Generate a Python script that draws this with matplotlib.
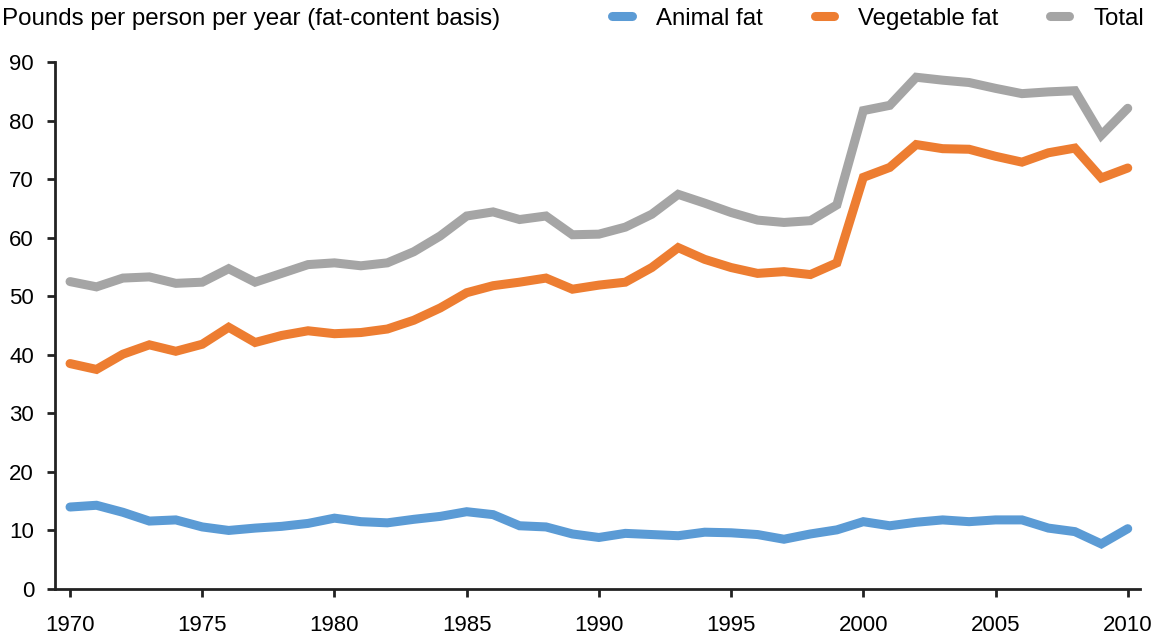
import numpy as np
import matplotlib.pyplot as plt

plt.rcParams["font.family"] = ["Liberation Sans", "DejaVu Sans"]

years = np.arange(1970, 2011)

animal_fat = [14.0, 14.3, 13.1, 11.6, 11.8, 10.6, 10.0, 10.4, 10.7, 11.2,
              12.1, 11.5, 11.3, 11.9, 12.4, 13.2, 12.7, 10.8, 10.6, 9.4,
              8.8, 9.5, 9.3, 9.1, 9.7, 9.6, 9.3, 8.5, 9.4, 10.1,
              11.5, 10.8, 11.4, 11.8, 11.5, 11.8, 11.8, 10.4, 9.8, 7.7,
              10.3]

vegetable_fat = [38.5, 37.5, 40.1, 41.7, 40.6, 41.8, 44.7, 42.1, 43.3, 44.1,
                 43.6, 43.8, 44.4, 45.9, 48.0, 50.6, 51.8, 52.4, 53.1, 51.2,
                 51.9, 52.4, 54.9, 58.3, 56.3, 54.9, 53.9, 54.2, 53.7, 55.7,
                 70.3, 72.0, 75.9, 75.2, 75.1, 73.9, 72.9, 74.5, 75.3, 70.2,
                 71.9]

total = [52.5, 51.6, 53.1, 53.3, 52.2, 52.4, 54.7, 52.4, 53.9, 55.4,
         55.7, 55.2, 55.7, 57.6, 60.3, 63.7, 64.4, 63.1, 63.7, 60.5,
         60.6, 61.8, 64.0, 67.4, 65.9, 64.3, 63.0, 62.6, 62.9, 65.6,
         81.7, 82.6, 87.4, 86.9, 86.5, 85.5, 84.6, 84.9, 85.1, 77.5,
         82.1]

series_names = ["Animal fat", "Vegetable fat", "Total"]
colors = ["#5B9BD5", "#ED7D31", "#A5A5A5"]

fig = plt.figure(figsize=(11.57, 6.38), dpi=100)
ax = fig.add_axes([0.0475, 0.0768, 0.9375, 0.826])

for vals, name, col in zip([animal_fat, vegetable_fat, total], series_names, colors):
    ax.plot(years, vals, color=col, lw=6.5, solid_capstyle="round",
            solid_joinstyle="miter", label=name)

ax.set_xlim(1969.43, 2010.45)
ax.set_ylim(0, 90)
ax.set_xticks(np.arange(1970, 2011, 5))
ax.set_yticks(np.arange(0, 91, 10))

for side in ["top", "right"]:
    ax.spines[side].set_visible(False)
for side in ["left", "bottom"]:
    ax.spines[side].set_linewidth(2)
    ax.spines[side].set_color("#222222")

ax.tick_params(direction="out", length=6, width=2, color="#222222",
               labelsize=16)
ax.tick_params(axis="x", pad=13)
ax.tick_params(axis="y", pad=9)

fig.text(0.002, 0.971, "Pounds per person per year (fat-content basis)",
         fontsize=17.4, va="center", ha="left")

leg = fig.legend(loc="center right", bbox_to_anchor=(0.989, 0.971), ncol=3,
                 frameon=False, fontsize=17.3, handlelength=0.8,
                 columnspacing=2.17, handletextpad=1.0, borderaxespad=0,
                 borderpad=0)

plt.savefig("out.png", dpi=100)
